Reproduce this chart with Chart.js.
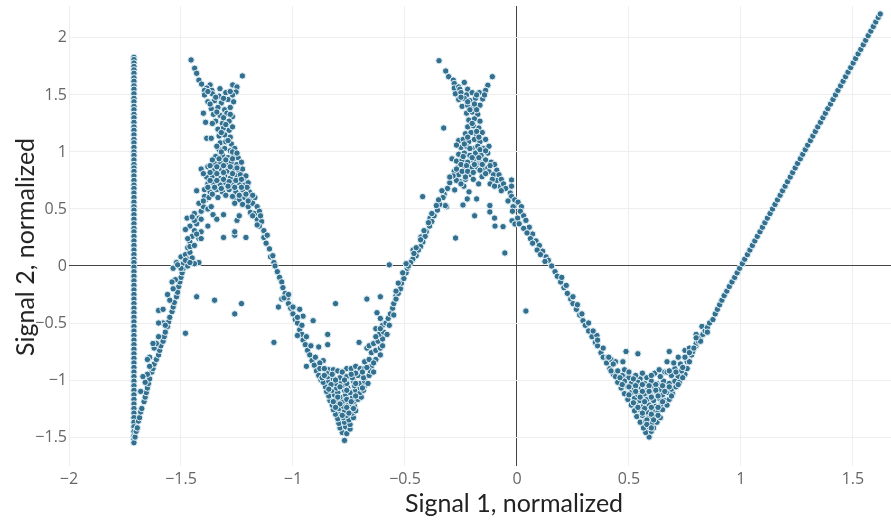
<!DOCTYPE html>
<html>
<head>
<meta charset="utf-8">
<script src="https://cdn.jsdelivr.net/npm/chart.js@4"></script>
<style>
body { margin: 0; background: #fff; overflow: hidden; }
#wrap { position: relative; width: 891px; height: 520px; }
.axisTitle { position: absolute; font-family: Lato, sans-serif; font-size: 25px; color: #222; white-space: nowrap; }
#xTitle { left: 405px; top: 487px; }
#yTitle { left: 24px; top: 247px; transform: translate(-50%, -50%) rotate(-90deg); }
</style>
</head>
<body>
<div id="wrap">
<canvas id="myChart" width="891" height="520"></canvas>
<div class="axisTitle" id="xTitle">Signal 1, normalized</div>
<div class="axisTitle" id="yTitle">Signal 2, normalized</div>
</div>
<script>
var xTicks = [-2, -1.5, -1, -0.5, 0, 0.5, 1, 1.5];
var yTicks = [-1.5, -1, -0.5, 0, 0.5, 1, 1.5, 2];

// column of saturated signal 1 readings
var columnX = -1.71;
var columnY = [1.83,1.81,1.78,1.75,1.72,1.69,1.65,1.62,1.58,1.55,1.51,1.47,1.44,1.4,1.37,1.33,1.3,1.26,1.22,1.19,1.15,1.11,1.08,1.04,1.0,0.97,0.93,0.89,0.86,0.83,0.79,0.75,0.71,0.68,0.64,0.6,0.56,0.52,0.49,0.45,0.41,0.37,0.33,0.3,0.26,0.22,0.18,0.14,0.1,0.06,0.03,-0.01,-0.05,-0.09,-0.13,-0.17,-0.21,-0.25,-0.29,-0.33,-0.37,-0.41,-0.45,-0.49,-0.53,-0.57,-0.61,-0.65,-0.69,-0.73,-0.77,-0.81,-0.85,-0.89,-0.93,-0.97,-1.01,-1.05,-1.09,-1.13,-1.17,-1.21,-1.25,-1.29,-1.33,-1.37,-1.41,-1.45,-1.49,-1.52,-1.55];

var leftRise = [[-1.705,-1.5],[-1.7,-1.45],[-1.695,-1.42],[-1.69,-1.36],[-1.685,-1.33],[-1.68,-1.28],[-1.675,-1.25],[-1.665,-1.19],[-1.66,-1.15],[-1.655,-1.11],[-1.65,-1.07],[-1.645,-1.03],[-1.64,-0.99],[-1.63,-0.93],[-1.625,-0.9],[-1.62,-0.86],[-1.61,-0.82],[-1.6,-0.78],[-1.595,-0.74],[-1.59,-0.7],[-1.58,-0.66],[-1.575,-0.62],[-1.57,-0.58],[-1.56,-0.53],[-1.555,-0.49],[-1.55,-0.45],[-1.54,-0.4],[-1.535,-0.36],[-1.53,-0.32],[-1.52,-0.27],[-1.515,-0.23],[-1.51,-0.18],[-1.505,-0.14],[-1.5,-0.1],[-1.495,-0.06],[-1.49,-0.02],
[-1.66,-1.02],[-1.65,-0.95],[-1.64,-0.8],[-1.62,-0.72],[-1.6,-0.62],[-1.61,-0.68],[-1.58,-0.5],[-1.6,-0.39],[-1.57,-0.52],[-1.55,-0.3],[-1.535,-0.2],[-1.525,-0.12],[-1.48,-0.59],[-1.43,-0.27],[-1.35,-0.3],[-1.26,-0.42],[-1.23,-0.33],[-1.085,-0.67],
[-1.52,0.03],[-1.5,0.08],[-1.49,0.02],[-1.48,0.1],[-1.47,0.06],[-1.46,0.12],[-1.45,0.07],[-1.47,0.0],[-1.5,-0.02],[-1.42,0.03],[-1.44,0.02],
[-1.47,0.16],[-1.46,0.21],[-1.45,0.26],[-1.47,0.24],[-1.44,0.31],[-1.46,0.35],[-1.43,0.37],[-1.42,0.42],[-1.44,0.4],[-1.473,0.42],[-1.44,0.46],[-1.48,0.32],[-1.41,0.3],[-1.38,0.35],[-1.42,0.24],[-1.41,0.48],[-1.4,0.52],[-1.42,0.55],[-1.39,0.58],[-1.38,0.5],[-1.365,0.52],[-1.357,0.45],[-1.34,0.41],[-1.31,0.45],[-1.31,0.25],[-1.26,0.27],[-1.26,0.3],[-1.21,0.25],[-1.25,0.4],[-1.24,0.44],[-1.335,0.6],[-1.26,0.6]];

var leftPeak = [[-1.455,1.807],[-1.439,1.734],[-1.43,1.69],[-1.42,1.63],[-1.408,1.595],[-1.226,1.667],[-1.269,1.588],[-1.25,1.57],[-1.254,1.526],[-1.326,1.555],[-1.37,1.588],[-1.385,1.56],[-1.395,1.54],[-1.362,1.54],
[-1.395,1.5],[-1.36,1.51],[-1.33,1.49],[-1.3,1.52],[-1.27,1.5],[-1.38,1.44],[-1.35,1.45],[-1.32,1.43],[-1.29,1.46],[-1.265,1.44],[-1.365,1.38],[-1.335,1.39],[-1.305,1.37],[-1.28,1.39],
[-1.4,1.34],[-1.355,1.33],[-1.325,1.32],[-1.295,1.34],[-1.27,1.31],[-1.39,1.26],[-1.345,1.27],[-1.315,1.25],[-1.285,1.27],[-1.335,1.2],[-1.31,1.21],[-1.285,1.19],[-1.33,1.14],[-1.305,1.15],[-1.28,1.13],
[-1.385,1.12],[-1.365,1.12],[-1.325,1.08],[-1.3,1.09],[-1.275,1.07],[-1.33,1.02],[-1.305,1.03],[-1.28,1.01],[-1.26,1.03],[-1.345,0.96],[-1.315,0.97],[-1.29,0.95],[-1.265,0.97],[-1.245,0.95],
[-1.35,0.9],[-1.325,0.91],[-1.3,0.89],[-1.275,0.91],[-1.25,0.89],[-1.41,0.85],[-1.38,0.87],[-1.35,0.84],[-1.32,0.85],[-1.295,0.83],[-1.265,0.85],[-1.24,0.83],[-1.225,0.85],
[-1.385,0.78],[-1.36,0.79],[-1.33,0.77],[-1.305,0.79],[-1.28,0.77],[-1.25,0.79],[-1.22,0.77],[-1.38,0.72],[-1.355,0.73],[-1.325,0.71],[-1.3,0.73],[-1.27,0.71],[-1.24,0.73],[-1.215,0.71],[-1.2,0.73],
[-1.43,0.66],[-1.395,0.67],[-1.37,0.65],[-1.34,0.67],[-1.315,0.65],[-1.285,0.67],[-1.255,0.65],[-1.225,0.67],[-1.195,0.65],[-1.395,0.61],[-1.375,0.6],[-1.27,0.61],[-1.24,0.58],[-1.215,0.6],[-1.19,0.58],[-1.17,0.6],
[-1.225,0.54],[-1.2,0.52],[-1.18,0.55],[-1.16,0.52],[-1.19,0.47],[-1.17,0.46],[-1.15,0.48],[-1.16,0.41],[-1.14,0.39],[-1.15,0.35],[-1.13,0.31],[-1.13,0.25],[-1.115,0.27],[-1.12,0.2],[-1.105,0.15],[-1.1,0.08],[-1.09,0.09],[-1.085,0.03],[-1.08,0.0]];

var leftTrough = [[-1.07,-0.05],[-1.06,-0.1],[-1.05,-0.14],[-1.045,-0.19],[-1.035,-0.24],[-1.025,-0.28],[-1.02,-0.33],[-1.01,-0.37],[-1.0,-0.42],[-0.99,-0.47],[-0.98,-0.5],[-0.97,-0.56],[-0.96,-0.6],[-0.955,-0.65],[-0.945,-0.69],[-0.935,-0.74],[-0.925,-0.78],[-0.915,-0.83],[-0.905,-0.87],[-0.895,-0.92],[-0.885,-0.96],[-0.875,-1.0],
[-1.065,-0.36],[-1.05,-0.29],[-0.81,-0.33],[-0.67,-0.29],[-0.61,-0.27],[-0.54,-0.26],[-0.625,-0.41],[-0.61,-0.46],[-0.63,-0.55],[-0.91,-0.48],[-0.955,-0.44],[-0.97,-0.38],[-0.845,-0.6],[-0.845,-0.69],[-0.885,-0.71],[-0.94,-0.88],[-0.98,-0.61],[-0.705,-0.67],[-0.67,-0.72],[-0.865,-0.83],[-0.88,-0.85],[-0.57,0.01],
[-0.84,-0.91],[-0.82,-0.91],[-0.76,-0.9],[-0.74,-0.9],[-0.72,-0.88],[-0.7,-0.9],[-0.68,-0.84],[-0.66,-0.82],[-0.68,-0.9],[-0.65,-0.88],[-0.63,-0.82],[-0.65,-0.76],[-0.63,-0.74],[-0.61,-0.72],[-0.66,-0.7],[-0.64,-0.68],[-0.62,-0.66],[-0.6,-0.64],[-0.615,-0.6],[-0.595,-0.58],[-0.6,-0.52],[-0.585,-0.5],[-0.575,-0.46],[-0.565,-0.42],[-0.555,-0.37],[-0.55,-0.33],[-0.54,-0.29],[-0.53,-0.24],[-0.52,-0.2],[-0.515,-0.15],[-0.505,-0.11],[-0.495,-0.06],[-0.49,-0.02],
[-0.77,-1.53],[-0.78,-1.46],[-0.76,-1.47],[-0.79,-1.42],[-0.765,-1.41],[-0.745,-1.43],[-0.795,-1.38],[-0.77,-1.37],[-0.745,-1.39],[-0.8,-1.34],[-0.775,-1.33],[-0.75,-1.35],[-0.73,-1.33],[-0.81,-1.3],[-0.785,-1.29],[-0.76,-1.31],[-0.735,-1.29],
[-0.82,-1.26],[-0.795,-1.25],[-0.77,-1.27],[-0.745,-1.25],[-0.72,-1.27],[-0.825,-1.22],[-0.8,-1.21],[-0.775,-1.23],[-0.75,-1.21],[-0.725,-1.23],[-0.835,-1.18],[-0.81,-1.17],[-0.78,-1.19],[-0.755,-1.17],[-0.73,-1.19],[-0.71,-1.17],
[-0.84,-1.14],[-0.815,-1.13],[-0.79,-1.15],[-0.765,-1.13],[-0.735,-1.15],[-0.71,-1.13],[-0.695,-1.15],[-0.85,-1.1],[-0.825,-1.09],[-0.8,-1.11],[-0.77,-1.09],[-0.745,-1.11],[-0.72,-1.09],[-0.7,-1.11],[-0.685,-1.09],
[-0.855,-1.06],[-0.83,-1.05],[-0.805,-1.07],[-0.78,-1.05],[-0.755,-1.07],[-0.725,-1.05],[-0.7,-1.07],[-0.68,-1.05],[-0.865,-1.02],[-0.84,-1.01],[-0.81,-1.03],[-0.785,-1.01],[-0.76,-1.03],[-0.73,-1.01],[-0.705,-1.03],[-0.68,-1.01],[-0.665,-1.03],
[-0.87,-0.98],[-0.845,-0.97],[-0.82,-0.99],[-0.79,-0.98],[-0.76,-0.97],[-0.735,-0.98],[-0.71,-0.96],[-0.685,-0.98],[-0.66,-0.96],[-0.85,-0.94],[-0.825,-0.95],[-0.655,-0.92]];

var rightPeak = [[-0.348,1.8],[-0.318,1.71],[-0.305,1.66],[-0.284,1.63],[-0.28,1.6],[-0.235,1.61],[-0.28,1.56],[-0.11,1.66],[-0.13,1.585],[-0.14,1.54],[-0.168,1.52],[-0.153,1.465],[-0.26,1.57],[-0.255,1.55],[-0.22,1.55],
[-0.275,1.51],[-0.25,1.52],[-0.225,1.5],[-0.2,1.52],[-0.145,1.5],[-0.26,1.46],[-0.235,1.47],[-0.21,1.45],[-0.185,1.47],[-0.245,1.4],[-0.22,1.41],[-0.195,1.39],[-0.165,1.41],[-0.225,1.34],[-0.2,1.35],[-0.175,1.33],[-0.215,1.28],[-0.19,1.29],[-0.165,1.27],
[-0.22,1.22],[-0.195,1.23],[-0.17,1.21],[-0.327,1.21],[-0.23,1.16],[-0.205,1.17],[-0.18,1.15],[-0.155,1.17],[-0.26,1.1],[-0.24,1.11],[-0.215,1.09],[-0.19,1.11],[-0.165,1.09],[-0.14,1.11],[-0.25,1.04],[-0.225,1.05],[-0.2,1.03],[-0.175,1.05],[-0.15,1.03],[-0.125,1.05],
[-0.26,0.98],[-0.235,0.99],[-0.21,0.97],[-0.185,0.99],[-0.16,0.97],[-0.13,0.99],[-0.29,0.94],[-0.27,0.92],[-0.245,0.93],[-0.22,0.91],[-0.195,0.93],[-0.165,0.91],[-0.14,0.93],[-0.115,0.91],[-0.265,0.86],[-0.235,0.87],[-0.21,0.85],[-0.18,0.87],[-0.15,0.85],[-0.13,0.86],[-0.28,0.83],[-0.26,0.8],[-0.235,0.81],[-0.205,0.8],
[-0.1,0.89],[-0.09,0.84],[-0.125,0.827],[-0.105,0.8],[-0.08,0.8],[-0.09,0.75],[-0.07,0.76],[-0.076,0.695],[-0.06,0.72],[-0.05,0.68],[-0.024,0.754],[-0.024,0.7],[-0.03,0.64],[-0.024,0.61],[-0.01,0.58],[0.005,0.56],[0.02,0.52],[-0.017,0.52],[0.003,0.42],[0.015,0.48],[0.03,0.44],[0.04,0.4],[-0.022,0.397],[-0.009,0.368],[0.055,0.34],[0.07,0.28],[0.085,0.22],[0.1,0.18],[0.115,0.13],[0.13,0.08],[0.14,0.05],[0.155,0.0],
[-0.121,0.53],[-0.121,0.474],[-0.1,0.42],[-0.098,0.35],[-0.062,0.345],[-0.054,0.114],[-0.421,0.608],[-0.274,0.245],[-0.464,0.14],[-0.429,0.254],[-0.388,0.42],[-0.189,0.44],[-0.241,0.535],[-0.314,0.52],[-0.32,0.53],[-0.278,0.667],[-0.222,0.588],[-0.18,0.588],[-0.214,0.65],[-0.237,0.7],[-0.171,0.72],[-0.156,0.783],[-0.161,0.895],[-0.202,0.862],[-0.254,0.74],
[-0.3,0.73],[-0.31,0.68],[-0.325,0.63],[-0.33,0.6],[-0.345,0.54],[-0.355,0.49],[-0.37,0.44],[-0.38,0.39],[-0.39,0.35],[-0.405,0.3],[-0.41,0.26],[-0.42,0.21],[-0.43,0.17],[-0.44,0.14],[-0.45,0.09],[-0.465,0.06],[-0.475,0.03],[-0.485,0.0],[-0.27,0.75],[-0.285,0.79],[-0.25,0.72],[-0.23,0.76],[-0.3,0.78]];

var rightTrough = [[0.04,-0.395],[0.17,-0.05],[0.18,-0.09],[0.195,-0.14],[0.21,-0.19],[0.225,-0.24],[0.24,-0.29],[0.25,-0.33],[0.265,-0.38],[0.28,-0.43],[0.295,-0.48],[0.305,-0.52],[0.32,-0.57],[0.335,-0.62],[0.35,-0.67],[0.36,-0.7],[0.375,-0.76],[0.385,-0.8],[0.4,-0.85],[0.415,-0.9],[0.43,-0.95],
[0.357,-0.61],[0.42,-0.82],[0.405,-0.8],[0.44,-0.84],[0.473,-0.84],[0.487,-0.75],[0.54,-0.77],[0.68,-0.75],[0.67,-0.84],[0.75,-0.74],[0.72,-0.8],[0.826,-0.53],[0.8,-0.6],[0.48,-0.91],[0.48,-0.97],[0.55,-0.99],[0.58,-0.98],[0.615,-0.94],[0.635,-0.91],[0.66,-0.93],[0.67,-0.93],[0.44,-0.97],[0.47,-0.96],[0.5,-0.98],[0.53,-0.96],[0.69,-0.96],[0.72,-0.97],[0.75,-0.95],[0.735,-0.92],[0.76,-0.9],[0.705,-0.9],[0.73,-0.86],[0.76,-0.84],[0.75,-0.8],[0.78,-0.78],[0.77,-0.72],[0.8,-0.7],
[0.59,-1.5],[0.575,-1.46],[0.6,-1.45],[0.565,-1.42],[0.59,-1.41],[0.61,-1.42],[0.55,-1.37],[0.575,-1.36],[0.6,-1.38],[0.625,-1.37],[0.535,-1.32],[0.56,-1.31],[0.59,-1.33],[0.615,-1.32],[0.64,-1.33],[0.525,-1.27],[0.55,-1.26],[0.58,-1.28],[0.605,-1.27],[0.63,-1.28],[0.65,-1.26],
[0.51,-1.22],[0.535,-1.21],[0.565,-1.23],[0.59,-1.22],[0.62,-1.23],[0.645,-1.21],[0.67,-1.22],[0.495,-1.17],[0.525,-1.16],[0.55,-1.18],[0.58,-1.17],[0.61,-1.18],[0.635,-1.16],[0.66,-1.18],[0.68,-1.17],
[0.48,-1.12],[0.51,-1.11],[0.54,-1.13],[0.57,-1.12],[0.595,-1.13],[0.625,-1.11],[0.65,-1.13],[0.675,-1.11],[0.695,-1.12],[0.465,-1.07],[0.495,-1.06],[0.525,-1.08],[0.555,-1.07],[0.585,-1.08],[0.615,-1.06],[0.64,-1.08],[0.665,-1.06],[0.69,-1.08],[0.71,-1.06],
[0.45,-1.02],[0.48,-1.01],[0.51,-1.03],[0.54,-1.02],[0.57,-1.03],[0.6,-1.01],[0.625,-1.03],[0.655,-1.01],[0.68,-1.03],[0.705,-1.01],[0.725,-1.02]];

var rightRise = [[0.785,-0.75],[0.8,-0.68],[0.81,-0.66],[0.82,-0.63],[0.83,-0.6],[0.84,-0.57],[0.85,-0.54],[0.86,-0.5],[0.875,-0.47],[0.885,-0.42],[0.895,-0.38],[0.905,-0.34],[0.915,-0.3],[0.925,-0.26],[0.937,-0.22],[0.948,-0.18],[0.96,-0.14],[0.972,-0.1],[0.983,-0.06],[0.994,-0.02],[1.006,0.02],[1.017,0.06],[1.029,0.1],[1.04,0.14],[1.051,0.18],[1.062,0.22],[1.073,0.26],[1.085,0.3],[1.096,0.34],[1.107,0.38],[1.118,0.42],[1.13,0.46],[1.141,0.5],[1.152,0.54],[1.163,0.58],[1.175,0.62],[1.186,0.66],[1.197,0.7],[1.208,0.74],[1.22,0.78],[1.231,0.82],[1.242,0.86],[1.253,0.9],[1.265,0.94],[1.276,0.98],[1.287,1.02],[1.298,1.06],[1.31,1.1],[1.321,1.14],[1.332,1.18],[1.343,1.22],[1.355,1.26],[1.366,1.3],[1.377,1.34],[1.388,1.38],[1.4,1.42],[1.411,1.46],[1.422,1.5],[1.433,1.54],[1.445,1.58],[1.456,1.62],[1.467,1.66],[1.478,1.7],[1.49,1.74],[1.501,1.78],[1.512,1.82],[1.523,1.86],[1.535,1.9],[1.546,1.94],[1.557,1.98],[1.568,2.02],[1.58,2.06],[1.591,2.1],[1.602,2.14],[1.613,2.18],[1.622,2.21]];

// dense fill read from the crowded parts of the clusters
var denseFill = [[-1.38,1.53],[-1.345,1.48],[-1.31,1.47],[-1.28,1.53],[-1.37,1.42],[-1.34,1.35],[-1.31,1.3],[-1.28,1.33],[-1.36,1.25],[-1.3,1.24],[-1.27,1.22],[-1.32,1.17],[-1.29,1.1],[-1.34,1.05],[-1.32,1.0],[-1.27,1.0],[-1.25,0.99],[-1.36,0.93],[-1.33,0.94],[-1.3,0.93],[-1.27,0.94],[-1.23,0.91],[-1.37,0.88],[-1.34,0.87],[-1.31,0.88],[-1.28,0.87],[-1.25,0.86],[-1.4,0.81],[-1.37,0.82],[-1.34,0.81],[-1.31,0.82],[-1.27,0.81],[-1.235,0.8],[-1.21,0.79],[-1.37,0.75],[-1.34,0.75],[-1.31,0.76],[-1.285,0.74],[-1.255,0.75],[-1.23,0.76],[-1.205,0.69],[-1.38,0.69],[-1.35,0.69],[-1.32,0.68],[-1.29,0.7],[-1.26,0.69],[-1.23,0.69],[-1.3,0.62],[-1.24,0.62],[-1.21,0.63],[-1.18,0.62],[-1.36,0.63],[-1.4,0.57],[-1.26,0.55],[-1.2,0.57],[-1.18,0.44],[-1.145,0.44],[-1.16,0.36],
[-1.41,0.41],[-1.45,0.43],[-1.43,0.28],[-1.41,0.24],[-1.46,0.17],[-1.44,0.18],[-1.48,0.05],[-1.46,0.03],[-1.535,-0.02],[-1.515,0.01],[-1.54,-0.14],[-1.56,-0.25],[-1.58,-0.38],[-1.6,-0.5],[-1.625,-0.68],[-1.64,-0.88],[-1.65,-0.82],[-1.68,-1.1],[-1.67,-0.97],
[-0.25,1.48],[-0.22,1.44],[-0.18,1.5],[-0.19,1.42],[-0.21,1.37],[-0.18,1.37],[-0.2,1.25],[-0.18,1.18],[-0.22,1.13],[-0.17,1.13],[-0.27,1.06],[-0.235,1.07],[-0.21,1.03],[-0.165,1.02],[-0.14,1.01],[-0.24,0.96],[-0.2,0.95],[-0.17,0.95],[-0.25,0.89],[-0.225,0.88],[-0.19,0.89],[-0.155,0.89],[-0.12,0.88],[-0.27,0.85],[-0.245,0.83],[-0.22,0.83],[-0.195,0.82],[-0.165,0.84],[-0.14,0.81],[-0.23,0.78],[-0.195,0.76],[-0.11,0.76],[-0.12,0.72],[-0.1,0.7],[-0.07,0.66],[-0.04,0.57],[-0.02,0.48],[0.01,0.37],[0.03,0.33],[0.045,0.29],[0.06,0.24],[0.07,0.2],[0.09,0.14],[0.105,0.1],[0.125,0.04],[-0.335,0.66],[-0.35,0.58],[-0.36,0.53],[-0.38,0.46],[-0.395,0.38],[-0.415,0.31],[-0.43,0.23],[-0.45,0.16],[-0.46,0.11],[-0.495,0.02],[-0.51,-0.06],[-0.53,-0.15],[-0.54,-0.22],
[-1.04,-0.28],[-1.02,-0.25],[-1.0,-0.36],[-0.98,-0.45],[-0.96,-0.52],[-0.94,-0.62],[-0.92,-0.7],[-0.9,-0.8],[-0.88,-0.9],[-0.86,-0.9],[-0.86,-0.96],[-0.8,-0.92],[-0.78,-0.93],[-0.72,-0.94],[-0.69,-0.93],[-0.67,-0.89],[-0.81,-1.0],[-0.77,-1.0],[-0.74,-0.95],[-0.83,-1.04],[-0.79,-1.06],[-0.76,-1.09],[-0.72,-1.03],[-0.69,-1.07],[-0.84,-1.08],[-0.8,-1.15],[-0.76,-1.17],[-0.72,-1.14],[-0.82,-1.19],[-0.79,-1.21],[-0.74,-1.19],[-0.81,-1.24],[-0.76,-1.24],[-0.73,-1.25],[-0.78,-1.31],[-0.75,-1.29],[-0.64,-0.93],[-0.64,-0.85],[-0.61,-0.78],[-0.6,-0.7],[-0.58,-0.6],[-0.57,-0.52],[-0.55,-0.43],[-0.63,-0.62],[-0.61,-0.55],
[0.2,-0.1],[0.22,-0.17],[0.25,-0.27],[0.27,-0.34],[0.29,-0.42],[0.32,-0.5],[0.34,-0.57],[0.36,-0.65],[0.385,-0.72],[0.41,-0.8],[0.43,-0.86],[0.45,-0.92],[0.42,-0.92],[0.46,-0.98],[0.5,-0.93],[0.52,-0.99],[0.56,-0.94],[0.6,-0.96],[0.64,-0.97],[0.68,-0.92],[0.7,-0.85],[0.71,-0.93],[0.74,-0.98],[0.47,-1.04],[0.5,-1.06],[0.53,-1.05],[0.56,-1.04],[0.59,-1.05],[0.62,-1.04],[0.65,-1.05],[0.68,-1.06],[0.72,-1.04],[0.5,-1.13],[0.53,-1.1],[0.56,-1.1],[0.59,-1.1],[0.62,-1.09],[0.66,-1.1],[0.69,-1.14],[0.52,-1.2],[0.55,-1.15],[0.57,-1.19],[0.6,-1.15],[0.63,-1.14],[0.65,-1.19],[0.54,-1.24],[0.57,-1.25],[0.6,-1.24],[0.63,-1.24],[0.56,-1.29],[0.6,-1.3],[0.63,-1.31],[0.58,-1.35],[0.61,-1.35],[0.58,-1.39],[0.6,-1.42],
[0.77,-0.76],[0.74,-0.89],[0.77,-0.84],[0.79,-0.72],[0.82,-0.66],[0.8,-0.63],[0.85,-0.58]];

var allPoints = columnY.map(function (y) { return { x: columnX, y: y }; });
[leftRise, leftPeak, leftTrough, rightPeak, rightTrough, rightRise, denseFill].forEach(function (group) {
    group.forEach(function (p) { allPoints.push({ x: p[0], y: p[1] }); });
});

function tickText(v) {
    return String(v).replace("-", "\u2212");
}

function gridColor(ctx) {
    return ctx.tick && ctx.tick.value === 0 ? "#444" : "#eee";
}

// stop tick labels from pushing the plot area inwards
function noMargins(scale) {
    scale.paddingLeft = 0;
    scale.paddingRight = 0;
    scale.paddingTop = 0;
    scale.paddingBottom = 0;
}

var ctx = document.getElementById("myChart").getContext("2d");
var myChart = new Chart(ctx, {
    type: "scatter",
    data: {
        datasets: [{
            data: allPoints,
            pointRadius: 3.2,
            pointBackgroundColor: "#336f8f",
            pointBorderColor: "#e4f3f8",
            pointBorderWidth: 1
        }]
    },
    options: {
        responsive: false,
        animation: false,
        layout: { autoPadding: false, padding: { top: 6 } },
        plugins: { legend: { display: false }, tooltip: { enabled: false } },
        scales: {
            x: {
                type: "linear",
                min: -2,
                max: 1.67,
                afterFit: function (scale) { scale.height = 54; noMargins(scale); },
                afterBuildTicks: function (scale) { scale.ticks = xTicks.map(function (v) { return { value: v }; }); },
                border: { display: false },
                grid: { color: gridColor, drawTicks: false },
                ticks: {
                    callback: tickText, padding: 4, maxRotation: 0, autoSkip: false,
                    color: "#666", font: { family: "'Open Sans'", size: 16 }
                }
            },
            y: {
                min: -1.754,
                max: 2.28,
                afterFit: function (scale) { scale.width = 69; noMargins(scale); },
                afterBuildTicks: function (scale) { scale.ticks = yTicks.map(function (v) { return { value: v }; }); },
                border: { display: false },
                grid: { color: gridColor, drawTicks: false },
                ticks: {
                    callback: tickText, padding: 2, autoSkip: false,
                    color: "#666", font: { family: "'Open Sans'", size: 16 }
                }
            }
        }
    }
});
</script>
</body>
</html>
